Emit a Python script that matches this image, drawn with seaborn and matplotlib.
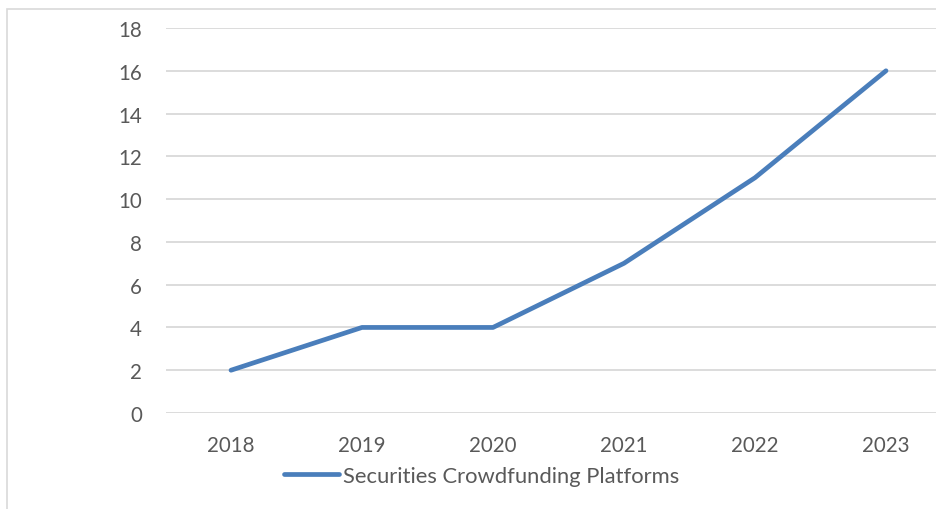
import matplotlib
matplotlib.use("Agg")
import matplotlib.pyplot as plt
import seaborn as sns
import pandas as pd
from matplotlib.patches import Rectangle

years = ["2018", "2019", "2020", "2021", "2022", "2023"]
platforms = [2, 4, 4, 7, 11, 16]
series_name = "Securities Crowdfunding Platforms"
y_ticks = [0, 2, 4, 6, 8, 10, 12, 14, 16, 18]

df = pd.DataFrame({"Year": years, "Count": platforms})

sns.set_theme(style="white")
plt.rcParams["font.family"] = ["Lato", "DejaVu Sans"]

W, H = 936, 510
fig = plt.figure(figsize=(W / 100, H / 100), dpi=100)
fig.patch.set_facecolor("white")

# chart border (Excel-like outer frame, cropped)
fig.add_artist(Rectangle((7 / W, -0.1), 2.0, 1.1 - 10 / H,
                         transform=fig.transFigure, fill=False,
                         edgecolor="#d9d9d9", linewidth=1.2))

left, right = 165.5 / W, 951.5 / W
bottom, top = 1 - 414 / H, 1 - 29 / H
ax = fig.add_axes([left, bottom, right - left, top - bottom])
ax.set_facecolor("none")

sns.lineplot(data=df, x="Year", y="Count", ax=ax, color="#4a7ebb",
             linewidth=3.4, label=series_name, sort=False,
             solid_capstyle="round", solid_joinstyle="round")

ax.set_xlim(-0.5, 5.5)
ax.set_ylim(0, 18)
ax.set_yticks(y_ticks)
ax.yaxis.grid(True, color="#d9d9d9", linewidth=1.3)
ax.xaxis.grid(False)
for s in ax.spines.values():
    s.set_visible(False)
ax.tick_params(axis="both", length=0, labelsize=14.8, labelcolor="#595959")
ax.tick_params(axis="y", pad=17)
ax.tick_params(axis="x", pad=16)
ax.set_xlabel("")
ax.set_ylabel("")
ax.set_axisbelow(True)

leg = ax.legend(loc="center", bbox_to_anchor=(482 / W, 1 - 477 / H),
                bbox_transform=fig.transFigure, frameon=False,
                fontsize=15.8, handlelength=2.5, handletextpad=0.18,
                labelcolor="#595959")
for line in leg.get_lines():
    line.set_linewidth(3.4)
    line.set_solid_capstyle("round")

fig.savefig("out.png", dpi=100)
